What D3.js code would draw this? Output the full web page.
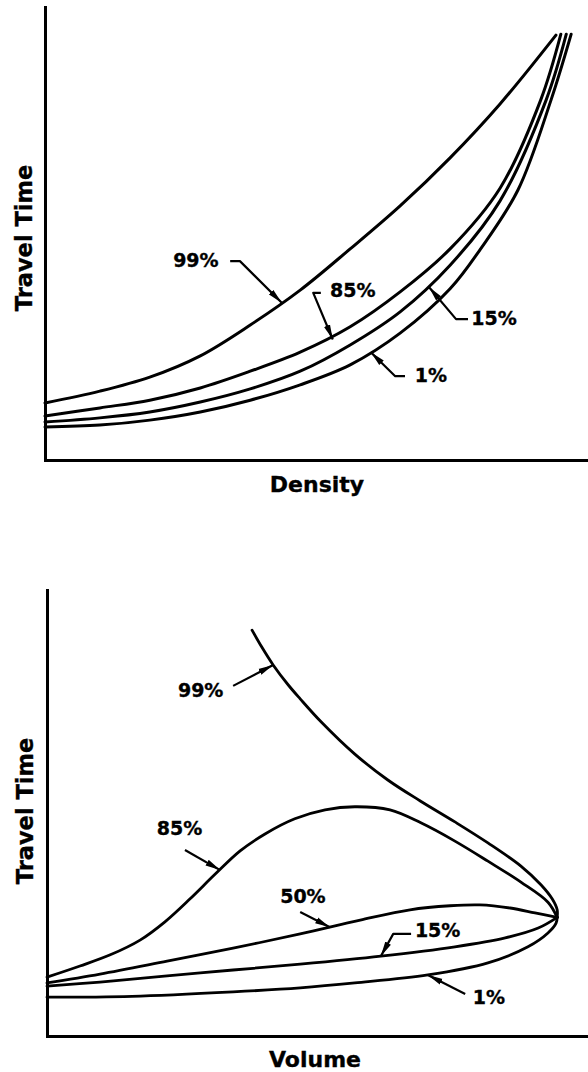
<!DOCTYPE html>
<html><head><meta charset="utf-8">
<script src="https://cdn.jsdelivr.net/npm/d3@7"></script>
<style>html,body{margin:0;padding:0;background:#fff}svg{display:block}</style>
</head><body><svg id="c" width="588" height="1072"></svg>
<script>
// ---------- data (arbitrary units 0..100 on both axes) ----------
const seriesLabelsDensity = ["99%", "85%", "15%", "1%"];
const seriesLabelsVolume  = ["99%", "85%", "50%", "15%", "1%"];
const axisTitlesTop    = ["Density", "Travel Time"];
const axisTitlesBottom = ["Volume", "Travel Time"];

// Travel time vs density
const densityP99 = [[0,12.6],[10.1,15.2],[19.3,18.3],[28.6,23.0],[37.8,29.8],[47,37.5],[56.2,46.6],[65.4,56.1],[74.6,66.7],[83.8,78.6],[94.1,93.8]];
const densityP85 = [[0,9.7],[10.1,11.5],[19.3,13.2],[28.6,15.9],[37.8,19.6],[47,23.8],[56.2,29.4],[65.4,37.1],[74.6,46.6],[83.8,60],[91.3,79.5],[95,94]];
const densityP15 = [[0,8.4],[10.1,9.3],[19.3,10.6],[28.6,12.8],[37.8,15.7],[47,19.6],[56.2,25.4],[65.4,32.7],[74.6,43.0],[83.8,57.2],[92.3,79.5],[96,94]];
const densityP1  = [[0,7.3],[10.1,7.7],[19.3,8.8],[28.6,10.6],[37.8,13.2],[47,16.6],[56.2,21],[65.4,28],[74.6,37.8],[80.1,46.4],[87.1,59.6],[93.2,79.5],[96.9,94]];

// Travel time vs volume
const volumeP99 = [[37.9,91.0],[39.7,87.2],[41.8,83.2],[44.6,78.7],[46.8,75.6],[50.7,70.4],[56.9,63.2],[63.0,57.4],[69.0,52.7],[75.4,48.0],[81.5,43.3],[87.6,38.1],[91.3,33.9],[93.4,30.7],[94.3,28.3],[94.3,26.6]];
const volumeP85 = [[0,13.2],[6.1,15.7],[11.7,18.2],[17.2,21.5],[21.8,25.6],[26.4,30.7],[31.1,36.3],[35.7,41.5],[40.3,45.3],[45.8,48.7],[51.4,50.7],[56.9,51.4],[63.4,50.7],[69.1,47.8],[75.4,43.7],[81.5,39.2],[87.6,34.5],[92.6,30.0],[94.3,26.6]];
const volumeP50 = [[0,11.9],[9.8,13.9],[22.2,16.8],[34.4,19.7],[46.8,22.9],[57.9,26.0],[67.1,28.3],[74.5,29.2],[80.0,29.4],[85.6,28.7],[90.2,27.6],[94.3,26.6]];
const volumeP15 = [[0,11.2],[9.8,12.1],[22.2,13.5],[34.4,14.8],[46.8,16.1],[61.7,17.9],[75.4,20.0],[84.7,22.0],[90.8,24.2],[94.3,26.6]];
const volumeP1  = [[0,8.7],[15.7,8.9],[34.4,9.9],[46.8,10.8],[56.9,11.9],[70.4,13.7],[81.5,16.4],[88.9,20.0],[92.6,23.1],[94.1,25.3],[94.3,26.6]];

// annotation leaders (data units): label anchor [x, baseline], leader polyline
const densityNotes = [
  {label:"99%", at:[23.6,42.6], path:[[34.1,43.9],[35.9,43.9],[43.6,34.7]]},
  {label:"85%", at:[52.5,36.0], path:[[50.8,36.9],[49.4,36.9],[53.0,26.6]]},
  {label:"15%", at:[78.5,29.8], path:[[77.9,31.1],[75.7,31.1],[70.7,38.2]]},
  {label:"1%",  at:[68.1,17.2], path:[[66.3,18.5],[64.5,18.5],[60.0,23.8]]}
];
const volumeNotes = [
  {label:"99%", at:[24.2,76.0], path:[[34.4,78.5],[41.8,83.2]]},
  {label:"85%", at:[20.3,45.1], path:[[25.5,41.7],[32.0,37.2]]},
  {label:"50%", at:[43.1,29.8], path:[[46.8,27.8],[52.3,24.4]]},
  {label:"15%", at:[68.0,22.2], path:[[67.3,22.9],[64.0,22.9],[61.7,17.9]]},
  {label:"1%",  at:[78.7,7.2],  path:[[77.3,9.4],[70.4,13.7]]}
];

// ---------- drawing ----------
const svg = d3.select("#c");
const FONT = "'DejaVu Sans', Verdana, sans-serif";

svg.append("defs").append("marker")
  .attr("id","ah").attr("markerUnits","userSpaceOnUse")
  .attr("markerWidth",16).attr("markerHeight",8)
  .attr("viewBox","0 -4 16 8").attr("refX",15).attr("refY",0)
  .attr("orient","auto")
  .append("path").attr("d","M0,-3.2L15,0L0,3.2Z").attr("fill","#000");

function panel(cfg){
  const x = d3.scaleLinear().domain([0,100]).range(cfg.xr);
  const y = d3.scaleLinear().domain([0,100]).range(cfg.yr);
  const g = svg.append("g");

  const ax = g.append("g").attr("transform",`translate(0,${cfg.yr[0]})`)
    .call(d3.axisBottom(x).tickValues([]).tickSizeOuter(0));
  const ay = g.append("g").attr("transform",`translate(${cfg.xr[0]},0)`)
    .call(d3.axisLeft(y).tickValues([]).tickSizeOuter(0));
  [ax,ay].forEach(a=>a.select(".domain").attr("stroke","#000").attr("stroke-width",3).attr("stroke-linecap","square"));

  const line = d3.line().x(d=>x(d[0])).y(d=>y(d[1])).curve(d3.curveCatmullRom.alpha(0.5));
  cfg.series.forEach(s=>{
    g.append("path").attr("d",line(s)).attr("fill","none")
      .attr("stroke","#000").attr("stroke-width",cfg.sw)
      .attr("stroke-linecap","round").attr("stroke-linejoin","round");
  });

  const lead = d3.line().x(d=>x(d[0])).y(d=>y(d[1]));
  cfg.notes.forEach(n=>{
    g.append("path").attr("d",lead(n.path)).attr("fill","none")
      .attr("stroke","#000").attr("stroke-width",2.2).attr("stroke-linejoin","round")
      .attr("marker-end","url(#ah)");
    g.append("text").attr("x",x(n.at[0])).attr("y",y(n.at[1]))
      .attr("font-family",FONT).attr("font-weight","bold").attr("font-size",19)
      .attr("fill","#000").attr("stroke","#000").attr("stroke-width",0.35)
      .text(n.label);
  });

  g.append("text").attr("x",cfg.xt[0]).attr("y",cfg.xt[1]).attr("text-anchor","middle")
    .attr("font-family",FONT).attr("font-weight","bold").attr("font-size",22)
    .attr("stroke","#000").attr("stroke-width",0.35)
    .text(cfg.titles[0]);
  g.append("text").attr("transform",`translate(${cfg.yt[0]},${cfg.yt[1]}) rotate(-90)`)
    .attr("text-anchor","middle")
    .attr("font-family",FONT).attr("font-weight","bold").attr("font-size",22.5)
    .attr("stroke","#000").attr("stroke-width",0.35)
    .text(cfg.titles[1]);
}

panel({xr:[45,588], yr:[460,7], sw:3,
  series:[densityP99,densityP85,densityP15,densityP1],
  notes:densityNotes, titles:axisTitlesTop, xt:[317,492], yt:[32,238]});
panel({xr:[47,588], yr:[1036,590], sw:2.8,
  series:[volumeP99,volumeP85,volumeP50,volumeP15,volumeP1],
  notes:volumeNotes, titles:axisTitlesBottom, xt:[315,1067], yt:[33,811]});
</script></body></html>
